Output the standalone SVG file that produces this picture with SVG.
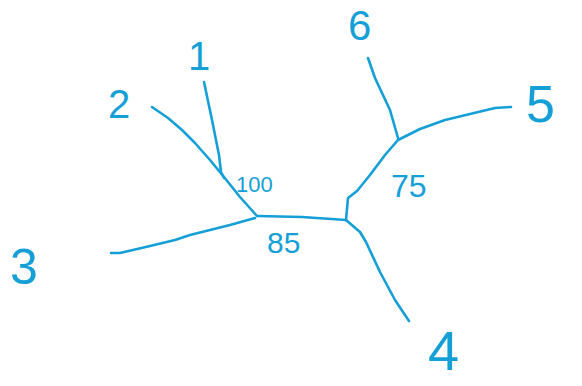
<svg xmlns="http://www.w3.org/2000/svg" width="582" height="386" viewBox="0 0 582 386">
<style>
.e{fill:none;stroke:#149fd7;stroke-width:2.6;stroke-linecap:round;stroke-linejoin:round}
.t{fill:#149fd7;font-family:"Liberation Sans",Arial,sans-serif;font-weight:normal}
</style>
<rect width="582" height="386" fill="#ffffff"/>
<g id="connectors">
<path class="e" d="M204,82 L212,120 L219,155 L221,172 L224,178"/>
<path class="e" d="M152,107 L168,118 L182,130 L195,143 L210,160 L224,177 L240,197 L257,216"/>
<path class="e" d="M111,253 L120,253 L150,246 L175,240 L190,235 L230,225 L255,218"/>
<path class="e" d="M258,216 L302,217 L346,220"/>
<path class="e" d="M346,220 L348,198 L357,191 L370,175 L385,155 L398,140"/>
<path class="e" d="M368,58 L375,78 L390,110 L398,138"/>
<path class="e" d="M398,140 L420,129 L445,120 L495,108 L511,107"/>
<path class="e" d="M346,220 L360,232 L366,242 L380,272 L395,300 L409,321"/>
</g>
<g id="n1"><text class="t" x="188" y="70" font-size="40">1</text></g>
<g id="n2"><text class="t" x="108" y="118" font-size="40">2</text></g>
<g id="n3"><text class="t" x="10" y="284" font-size="50">3</text></g>
<g id="n4"><text class="t" x="428" y="370" font-size="56">4</text></g>
<g id="n5"><text class="t" x="526" y="122" font-size="52">5</text></g>
<g id="n6"><text class="t" x="348" y="40" font-size="42">6</text></g>
<g id="n100"><text class="t" x="236" y="192" font-size="22">100</text></g>
<g id="n85"><text class="t" x="267" y="253" font-size="30">85</text></g>
<g id="n75"><text class="t" x="391" y="197" font-size="32">75</text></g>
</svg>
